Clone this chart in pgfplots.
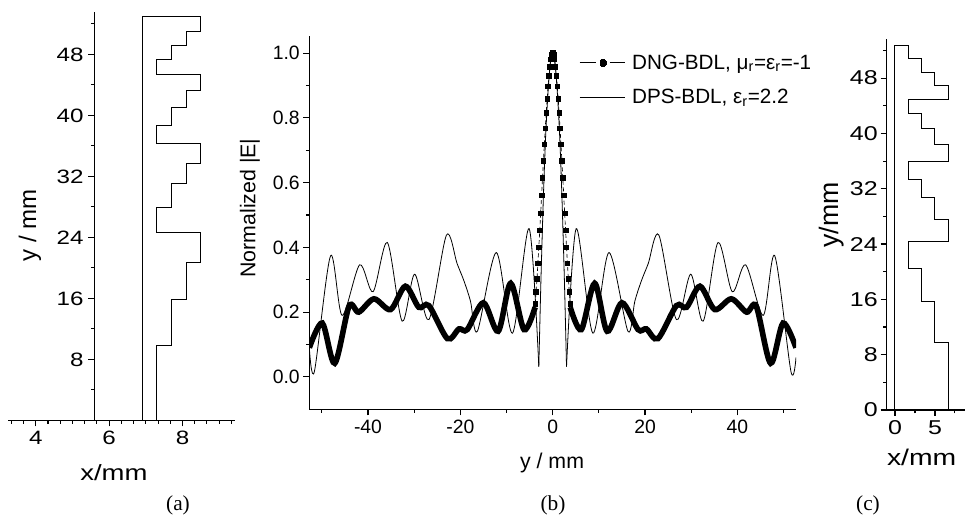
\documentclass[border=0pt]{standalone}
\usepackage{fontspec}
\setmainfont{Liberation Sans}
\newfontfamily\widesf[FakeStretch=1.25]{Liberation Sans}
\newfontfamily\capserif{Liberation Serif}
\usepackage{pgfplots}
\pgfplotsset{compat=1.18}

\newcommand{\tka}{\widesf\fontsize{14.5}{16}\selectfont}
\newcommand{\tkb}{\fontsize{14.5}{16}\selectfont}
\newcommand{\tkc}{\widesf\fontsize{15}{17}\selectfont}

\pgfplotsset{
  panel/.style={
    scale only axis, anchor=south west,
    axis line style={line width=0.9pt},
    tick align=outside,
    major tick length=4.5pt, minor tick length=2.6pt,
    tick style={line width=0.8pt, black},
  },
  profile/.style={black, line width=0.75pt},
}

\begin{document}
\begin{tikzpicture}
\useasboundingbox (0,0) rectangle (723.75pt,387.75pt);

% ---------- (a) x axis (runs left of the y axis) ----------
\begin{axis}[panel,
  at={(6.2pt,72.4pt)}, width=170.0pt, height=306.6pt,
  xmin=3.25, xmax=9.43, ymin=0, ymax=53.6,
  axis x line*=bottom, axis y line=none,
  xtick={4,6,8}, xticklabels={4,6,8},
  minor xtick={3.3333,3.6667,4.3333,4.6667,5,5.3333,5.6667,6.3333,6.6667,7,7.3333,7.6667,8.3333,8.6667,9,9.3333},
  tick label style={font=\tka},
  xlabel={x/mm},
  xlabel style={at={(axis description cs:0.466,-0.128)}, anchor=center,
                font=\widesf\fontsize{16.5}{18}\selectfont},
]
\end{axis}

% ---------- (a) profile ----------
\begin{axis}[panel,
  at={(70.7pt,72.4pt)}, width=105.5pt, height=306.6pt,
  xmin=5.6, xmax=9.43, ymin=0, ymax=53.6,
  axis y line*=left, axis x line=none,
  ytick={8,16,24,32,40,48}, yticklabels={8,16,24,32,40,48},
  minor ytick={4,12,20,28,36,44,52},
  tick label style={font=\tka},
  ylabel={y / mm},
  ylabel style={at={(axis description cs:-0.457,0.478)}, anchor=center,
                font=\fontsize{18}{20}\selectfont},
]
\addplot[profile] coordinates {
  (6.9,0) (6.9,52.9) (8.5,52.9) (8.5,51.05) (8.1,51.05) (8.1,49.2) (7.7,49.2)
  (7.7,47.3) (7.3,47.3) (7.3,45.3) (8.5,45.3) (8.5,43.2) (8.1,43.2) (8.1,41.0)
  (7.7,41.0) (7.7,38.7) (7.3,38.7) (7.3,36.3) (8.5,36.3) (8.5,33.7) (8.1,33.7)
  (8.1,31.05) (7.7,31.05) (7.7,27.9) (7.3,27.9) (7.3,24.6) (8.5,24.6) (8.5,20.65)
  (8.1,20.65) (8.1,15.8) (7.7,15.8) (7.7,9.8) (7.3,9.8) (7.3,0) };
\end{axis}

% ---------- (b) field ----------
\begin{axis}[panel,
  at={(232.0pt,80.8pt)}, width=365.0pt, height=280.0pt,
  xmin=-52.7, xmax=52.7, ymin=-0.1, ymax=1.053,
  axis x line*=bottom, axis y line*=left,
  xtick={-40,-20,0,20,40}, xticklabels={-40,-20,0,20,40},
  minor xtick={-50,-30,-10,10,30,50},
  ytick={0,0.2,0.4,0.6,0.8,1.0}, yticklabels={0.0,0.2,0.4,0.6,0.8,1.0},
  minor ytick={0.1,0.3,0.5,0.7,0.9},
  tick label style={font=\tkb},
  yticklabel style={inner xsep=2.5pt},
  xlabel={y / mm}, ylabel={Normalized |E|},
  xlabel style={at={(axis description cs:0.4987,-0.144)}, anchor=center,
                font=\fontsize{16}{18}\selectfont},
  ylabel style={at={(axis description cs:-0.122,0.539)}, anchor=center,
                font=\fontsize{16}{18}\selectfont},
  legend style={draw=none, fill=none, at={(rel axis cs:0.546,0.965)},
                anchor=north west, font=\fontsize{15.5}{18}\selectfont,
                row sep=9.5pt,
                /tikz/every odd column/.append style={column sep=3pt}},
  legend cell align=left,
]
% DNG sidelobes (thick)
\addplot[black, line width=4.2pt, smooth, forget plot] coordinates {
  (-52.7,0.090) (-49.9,0.166) (-47.2,0.042) (-44.1,0.218) (-42.0,0.200)
  (-38.7,0.241) (-35.1,0.208) (-31.9,0.280) (-29.0,0.215) (-26.8,0.220)
  (-22.8,0.118) (-20.3,0.148) (-18.5,0.146) (-15.0,0.229) (-11.8,0.141)
  (-9.1,0.289) (-6.2,0.146) (-3.8,0.215) };
\addplot[black, line width=4.2pt, smooth, forget plot] coordinates {
  (3.8,0.215) (6.2,0.146) (9.1,0.289) (11.8,0.141) (15.0,0.229) (18.5,0.146)
  (20.3,0.148) (22.8,0.118) (26.8,0.220) (29.0,0.215) (31.9,0.280) (35.1,0.208)
  (38.7,0.241) (42.0,0.200) (44.1,0.218) (47.2,0.042) (49.9,0.166) (52.7,0.090) };
% DNG main lobe (marked)
\addplot[black, line width=0.5pt, densely dashed, mark=square*, mark size=1.7pt,
  mark options={solid},
  legend image code/.code={
    \draw[solid, line width=0.6pt] (0pt,0pt) -- (12.5pt,0pt) (22.5pt,0pt) -- (34pt,0pt);
    \fill (15.2pt,-2.3pt) rectangle (19.8pt,2.3pt);}] coordinates {
  (-3.8,0.225) (-3.6,0.262) (-3.4,0.302) (-3.2,0.350) (-3.0,0.400) (-2.8,0.452)
  (-2.6,0.505) (-2.4,0.560) (-2.2,0.614) (-2.0,0.667) (-1.8,0.718) (-1.6,0.768)
  (-1.4,0.815) (-1.2,0.858) (-1.0,0.897) (-0.8,0.930) (-0.6,0.958) (-0.4,0.980)
  (-0.2,0.995) (0,1.000) (0.2,0.995) (0.4,0.980) (0.6,0.958) (0.8,0.930)
  (1.0,0.897) (1.2,0.858) (1.4,0.815) (1.6,0.768) (1.8,0.718) (2.0,0.667)
  (2.2,0.614) (2.4,0.560) (2.6,0.505) (2.8,0.452) (3.0,0.400) (3.2,0.350)
  (3.4,0.302) (3.6,0.262) (3.8,0.225) };
\addlegendentry{DNG-BDL, μ\textsubscript{r}=ε\textsubscript{r}=-1}
% DPS (thin)
\addplot[black, line width=0.6pt, smooth,
  legend image code/.code={\draw[solid, line width=0.6pt] (0pt,0pt) -- (34pt,0pt);}]
  coordinates {
  (-52.7,0.090) (-51.6,0.017) (-48.1,0.374) (-45.6,0.190) (-41.8,0.346)
  (-38.9,0.263) (-35.8,0.415) (-32.6,0.172) (-29.9,0.317) (-26.8,0.177)
  (-23.0,0.438) (-20.7,0.350) (-19.2,0.296) (-17.8,0.234) (-16.3,0.141)
  (-12.2,0.384) (-8.7,0.135) (-5.1,0.458) (-3.0,0.032) };
\addlegendentry{DPS-BDL, ε\textsubscript{r}=2.2}
\addplot[black, line width=0.6pt, smooth, forget plot] coordinates {
  (-3.0,0.032) (-2.8,0.150) (-2.5,0.320) (-2.0,0.560) (-1.5,0.750) (-1.0,0.880)
  (-0.5,0.970) (0,1.000) (0.5,0.970) (1.0,0.880) (1.5,0.750) (2.0,0.560)
  (2.5,0.320) (2.8,0.150) (3.0,0.032) };
\addplot[black, line width=0.6pt, smooth, forget plot] coordinates {
  (3.0,0.032) (5.1,0.458) (8.7,0.135) (12.2,0.384) (16.3,0.141) (17.8,0.234)
  (19.2,0.296) (20.7,0.350) (23.0,0.438) (26.8,0.177) (29.9,0.317) (32.6,0.172)
  (35.8,0.415) (38.9,0.263) (41.8,0.346) (45.6,0.190) (48.1,0.374) (51.6,0.017)
  (52.7,0.060) };
\end{axis}

% ---------- (c) profile ----------
\begin{axis}[panel,
  at={(665.0pt,80.25pt)}, width=58.7pt, height=278.0pt,
  xmin=-1.04, xmax=8.75, ymin=0, ymax=53.6,
  axis x line*=bottom, axis y line*=left,
  xtick={0,5}, xticklabels={0,5}, minor xtick={2.5,7.5},
  ytick={0,8,16,24,32,40,48}, yticklabels={0,8,16,24,32,40,48},
  minor ytick={4,12,20,28,36,44,52},
  tick label style={font=\tkc},
  yticklabel style={inner xsep=2pt},
  xlabel={x/mm}, ylabel={y/mm},
  xlabel style={at={(axis description cs:0.447,-0.127)}, anchor=center,
                font=\widesf\fontsize{17}{19}\selectfont},
  ylabel style={at={(axis description cs:-0.70,0.526)}, anchor=center,
                font=\fontsize{20}{22}\selectfont},
]
\addplot[profile] coordinates {
  (0,0) (0,52.65) (1.67,52.65) (1.67,50.8) (3.33,50.8) (3.33,48.8) (5,48.8)
  (5,46.9) (6.67,46.9) (6.67,44.9) (1.67,44.9) (1.67,42.9) (3.33,42.9)
  (3.33,40.65) (5,40.65) (5,38.4) (6.67,38.4) (6.67,36.0) (1.67,36.0)
  (1.67,33.4) (3.33,33.4) (3.33,30.7) (5,30.7) (5,27.6) (6.67,27.6)
  (6.67,24.4) (1.67,24.4) (1.67,20.5) (3.33,20.5) (3.33,15.75) (5,15.75)
  (5,9.7) (6.67,9.7) (6.67,0) };
\end{axis}

% captions
\node[font=\capserif\fontsize{16}{18}\selectfont] at (133.5pt,9pt) {(a)};
\node[font=\capserif\fontsize{16}{18}\selectfont] at (414.75pt,9pt) {(b)};
\node[font=\capserif\fontsize{16}{18}\selectfont] at (651pt,9pt) {(c)};
\end{tikzpicture}
\end{document}
